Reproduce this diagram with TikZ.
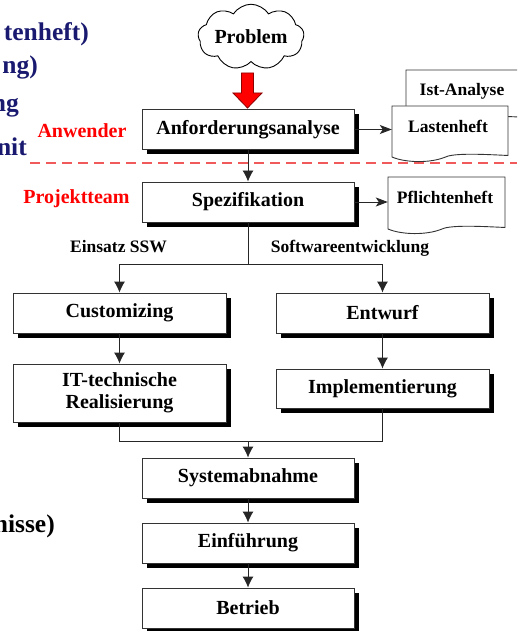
\documentclass[tikz,border=0pt]{standalone}
\usepackage{fontspec}
\setmainfont{Liberation Serif}
\usetikzlibrary{shapes.symbols,shadows,arrows.meta}
\definecolor{navyblue}{RGB}{25,25,112}
\definecolor{sepred}{RGB}{240,90,90}
\definecolor{arrowred}{RGB}{255,0,0}
\definecolor{arrowedge}{RGB}{140,0,0}

% document symbol with a wavy lower edge: left, top, right, bottom
\newcommand{\docsymbol}[4]{%
  \filldraw[docline]
    (#1,#2) -- (#1,#4)
    .. controls ({#1+0.12*(#3-#1)},{#4+6}) and ({#1+0.33*(#3-#1)},{#4+6}) .. ({#1+0.45*(#3-#1)},{#4+0.5})
    .. controls ({#1+0.52*(#3-#1)},{#4-4}) and ({#1+0.75*(#3-#1)},{#4-3}) .. (#3,{#4-1.5})
    -- (#3,#2) -- cycle;}

\begin{document}
\begin{tikzpicture}[x=1pt,y=-1pt,
  proc/.style={draw=black!80, line width=0.9pt, fill=white,
    minimum width=212pt, minimum height=40pt, inner sep=0pt, align=center,
    font=\fontsize{20}{22}\selectfont\bfseries,
    drop shadow={shadow xshift=5pt, shadow yshift=-5pt, fill=black, opacity=1}},
  docline/.style={draw=black!80, line width=0.9pt, fill=white},
  doctext/.style={anchor=base, inner sep=0pt, font=\fontsize{17.5}{20}\selectfont\bfseries},
  lbl/.style={anchor=base, inner sep=0pt, font=\fontsize{17.5}{20}\selectfont\bfseries},
  rolelbl/.style={anchor=base, inner sep=0pt, text=red, font=\fontsize{20}{22}\selectfont\bfseries},
  sidetext/.style={anchor=base east, inner sep=0pt, text=navyblue, font=\fontsize{25.5}{28}\selectfont\bfseries},
  conn/.style={draw=black!85, line width=0.9pt},
  flow/.style={conn, -{Latex[length=11pt,width=11pt]}},
  outarrow/.style={conn, -{Stealth[length=12pt,width=9pt,inset=3pt]}},
]
\clip (0,0) rectangle (517,631);
\useasboundingbox (0,0) rectangle (517,631);

% side text of the slide
\node[sidetext] (s1) at (89,41) {tenheft)};
\node[sidetext] (s2) at (38,74) {ng)};
\node[sidetext] (s3) at (19,112) {ng};
\node[sidetext] (s4) at (27,156) {nit};
\node[sidetext, text=black] (s5) at (55,532) {nisse)};

% boundary between user and project team
\draw[sepred, line width=1.1pt, dash pattern=on 10pt off 6pt] (30,163) -- (517,163);
\node[rolelbl] (anw) at (82,138) {Anwender};
\node[rolelbl] (team) at (76.5,203) {Projektteam};

% problem cloud and block arrow
\node[cloud, cloud puffs=9, cloud puff arc=115, aspect=2.1, draw=black, line width=0.9pt,
  fill=white, minimum width=106pt, minimum height=56pt, inner sep=0pt,
  font=\fontsize{20}{22}\selectfont\bfseries] (prob) at (251,37) {Problem};
\coordinate (blk) at (247.5,73);
\filldraw[fill=arrowred, draw=arrowedge, line width=0.8pt]
  (blk) ++(-6,0) -- ++(12,0) -- ++(0,20) -- ++(8.5,0) -- ++(-14.5,15)
  -- ++(-14.5,-15) -- ++(8.5,0) -- cycle;

% process steps
\node[proc] (anf) at (248,129.5) {Anforderungsanalyse};
\node[proc] (spez) at (248,202) {Spezifikation};
\node[proc, minimum width=213pt] (cust) at (119.5,313) {Customizing};
\node[proc, minimum width=213pt, minimum height=58pt] (itr) at (119.5,393) {IT-technische\\Realisierung};
\node[proc, minimum width=213pt] (entw) at (382.5,313) {Entwurf};
\node[proc, minimum width=213pt, minimum height=39pt] (impl) at (382.5,388.5) {Implementierung};
\node[proc] (sysab) at (248,478) {Systemabnahme};
\node[proc] (einf) at (248,543) {Einführung};
\node[proc] (betr) at (248,608) {Betrieb};

% documents
\docsymbol{406}{70}{530}{119}
\node[doctext] (istt) at (462,96) {Ist-Analyse};
\docsymbol{392}{106}{508}{157}
\node[inner sep=0pt, minimum width=116pt, minimum height=51pt] (lasten) at (450,131.5) {};
\node[doctext] (lastent) at (448,133) {Lastenheft};
\docsymbol{388}{177}{505}{229}
\node[inner sep=0pt, minimum width=117pt, minimum height=52pt] (pflicht) at (446.5,203) {};
\node[doctext] (pflichtt) at (445,203) {Pflichtenheft};

% connectors
\draw[outarrow] (anf.east) -- (lasten.west |- anf.east);
\draw[outarrow] (spez.east) -- (pflicht.west |- spez.east);
\draw[flow] (anf.south) -- (spez.north);

\coordinate (split) at (248,264);
\draw[conn] (spez.south) -- (split);
\draw[flow] (split) -| (cust.north);
\draw[flow] (split) -| (entw.north);
\node[lbl] (ssw) at (118.5,252) {Einsatz SSW};
\node[lbl] (swe) at (350,252) {Softwareentwicklung};

\draw[flow] (cust.south) -- (itr.north);
\draw[flow] (entw.south) -- (impl.north);

\coordinate (join) at (248,441);
\draw[conn] (itr.south) |- (join);
\draw[conn] (impl.south) |- (join);
\draw[flow] (join) -- (sysab.north);
\draw[flow] (sysab.south) -- (einf.north);
\draw[flow] (einf.south) -- (betr.north);
\end{tikzpicture}
\end{document}
